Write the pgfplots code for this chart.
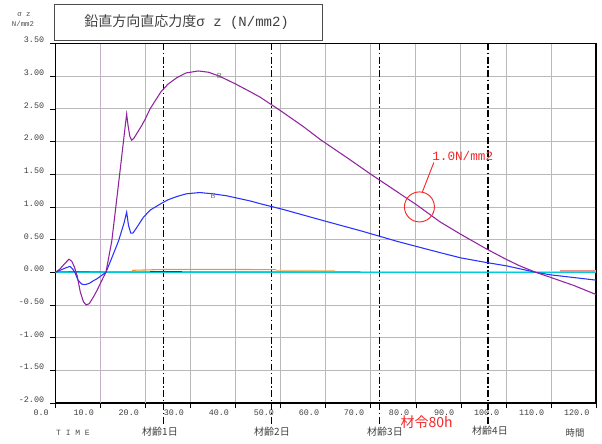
\documentclass[border=0pt]{standalone}
\usepackage{pgfplots}
\pgfplotsset{compat=1.18}
\usepackage{fontspec}
\setmainfont{Liberation Serif}
\newfontfamily\jp{Noto Sans CJK JP}
\newfontfamily\mono{Liberation Mono}
\definecolor{cpurple}{RGB}{145,35,160}
\definecolor{cblue}{RGB}{40,50,255}
\definecolor{ccyan}{RGB}{0,205,215}
\definecolor{corange}{RGB}{240,150,40}
\definecolor{clorange}{RGB}{245,195,130}
\definecolor{cdred}{RGB}{150,30,30}
\definecolor{cteal}{RGB}{40,130,110}
\definecolor{cpink}{RGB}{240,140,140}
\definecolor{cgrid}{RGB}{185,185,185}
\definecolor{cmauve}{RGB}{200,175,205}
\definecolor{cred}{RGB}{245,40,40}

\begin{document}
\begin{tikzpicture}
\path[use as bounding box] (-41.625pt,-30pt) rectangle (409.875pt,302.25pt);
\begin{axis}[
  at={(0,0)}, anchor=south west,
  scale only axis, width=405.375pt, height=269.625pt,
  xmin=0, xmax=120, ymin=-2, ymax=3.5,
  xtick={0,10,...,120},
  ytick={-2,-1.5,...,3.5},
  tick pos=left, tick align=outside, major tick length=4pt,
  tick style={draw=black, line width=0.5pt},
  grid=major, major grid style={draw=cgrid, line width=0.6pt},
  axis line style={line width=1.1pt},
  clip=false,
  /pgf/number format/assume math mode=true,
  tick label style={font=\mono\fontsize{6.3}{7}\selectfont, text=black!75},
  xticklabel style={/pgf/number format/.cd, fixed, fixed zerofill, precision=1, /tikz/.cd, anchor=north east, xshift=-1.5pt, yshift=2.5pt},
  yticklabel style={/pgf/number format/.cd, fixed, fixed zerofill, precision=2, /tikz/.cd, anchor=east, yshift=2.5pt, xshift=-1pt},
]
% coloured grid lines at 10 and 20
\draw[cmauve, line width=0.6pt] (axis cs:10,-2) -- (axis cs:10,3.5);
\draw[cmauve, line width=0.6pt] (axis cs:20,-2) -- (axis cs:20,3.5);
% day lines
\foreach \d in {24,48,72,96} {
  \edef\tmp{\noexpand\draw[black, line width=0.9pt, dash pattern=on 5pt off 2pt on 1pt off 2pt] (axis cs:\d,3.5) -- (axis cs:\d,-2.35);}
  \tmp
}
\draw[black!80, line width=0.6pt] (axis cs:0,0) -- (axis cs:120,0);

% near-zero series
\addplot[cteal, line width=0.7pt] coordinates {(0,0.005) (30,0.008) (60,0.005) (90,0.004) (120,0.004)};
\addplot[green!60!black, line width=0.6pt] coordinates {(0,0.0) (5,0.01) (11,0.0)};
\addplot[cdred, line width=0.8pt] coordinates {(21,0.005) (28,0.005)};
\addplot[corange, line width=0.8pt] coordinates {(17,0.03) (25,0.045) (35,0.045) (49,0.04)};
\addplot[clorange, line width=0.8pt] coordinates {(49,0.03) (62,0.025)};
\addplot[clorange, line width=0.8pt] coordinates {(99,0.012) (112,0.012)};
\addplot[cpink, line width=0.8pt] coordinates {(112,0.02) (120,0.02)};
\addplot[ccyan, line width=0.9pt] coordinates {(0,0) (120,0)};

% blue
\addplot[cblue, line width=0.8pt] coordinates {
(0,0) (1,0.03) (2,0.06) (3.2,0.09) (3.8,0.05) (4.3,0) (5,-0.12) (5.8,-0.18) (6.5,-0.19)
(7.5,-0.17) (8.4,-0.13) (9.2,-0.1) (10.2,-0.05) (11.2,0) (12.5,0.22) (14,0.48) (15.2,0.75)
(15.8,0.92) (16.2,0.72) (16.7,0.6) (17.2,0.6) (18,0.68) (19.5,0.84) (21,0.95) (23.4,1.05)
(25,1.11) (27,1.16) (29,1.2) (32,1.22) (35,1.2) (38,1.17) (43.3,1.09) (45.4,1.05)
(50.6,0.96) (60,0.78) (68,0.63) (76,0.47) (85.4,0.3) (90,0.22) (95.6,0.15) (100,0.1)
(106.6,0) (110,-0.04) (115,-0.08) (120,-0.12)};

% purple
\addplot[cpurple, line width=0.8pt] coordinates {
(0,0) (1,0.05) (2,0.13) (3,0.2) (3.6,0.17) (4.2,0.08) (4.8,-0.05) (5.5,-0.3) (6.2,-0.45)
(6.8,-0.5) (7.5,-0.48) (8.4,-0.38) (9.2,-0.28) (9.9,-0.18) (10.6,-0.08) (11.2,0)
(12.5,0.48) (13.6,1.12) (14.7,1.77) (15.5,2.25) (15.8,2.42) (16.1,2.25) (16.5,2.08)
(16.9,2.02) (17.4,2.05) (18.2,2.14) (19.1,2.24) (19.9,2.34) (21,2.5) (22.1,2.62)
(23.4,2.76) (25,2.88) (27,2.98) (29,3.05) (31.7,3.08) (34,3.06) (36.4,3.0) (40,2.88)
(43.3,2.76) (45.4,2.68) (50,2.47) (55,2.23) (58.8,2.03) (65,1.74) (70,1.5) (75,1.27)
(80,1.04) (85.4,0.77) (90,0.58) (95.6,0.36) (100,0.2) (103,0.1) (106.6,0) (110,-0.08)
(115,-0.2) (120,-0.34)};

\node[font=\sffamily\fontsize{5.5}{6}\selectfont, text=black!60] at (axis cs:36.4,3.0) {B};
\node[font=\sffamily\fontsize{5.5}{6}\selectfont, text=black!60] at (axis cs:35,1.16) {B};

% annotation
\draw[cred, line width=0.7pt] (axis cs:80.8,1.0) circle [radius=11.25pt];
\draw[cred, line width=0.7pt] (axis cs:81.4,1.22) -- (axis cs:84.0,1.68);
\node[cred, anchor=south west, inner sep=0pt, font=\mono\fontsize{9.5}{10}\selectfont] at (axis cs:83.6,1.70) {1.0N/mm2};
\end{axis}

\begin{scope}[x=0.75pt, y=0.75pt]
\draw[black!70, line width=0.7pt] (-1.5,362.3) rectangle (266.5,399);
\node[font=\jp\fontsize{10.5}{12}\selectfont, text=black!75] at (131.2,381.3) {鉛直方向直応力度{\mono σ z (N/mm2)}};
\node[font=\mono\fontsize{5.5}{6}\selectfont, text=black!70] at (-31.5,388) {σ z};
\node[font=\mono\fontsize{5.5}{6}\selectfont, text=black!70] at (-32.5,379) {N/mm2};
\node[font=\mono\fontsize{6}{7}\selectfont, text=black!70] at (17.5,-30) {T I M E};
\node[font=\jp\fontsize{7.5}{8}\selectfont, text=black!75] at (104.5,-29) {材齢1日};
\node[font=\jp\fontsize{7.5}{8}\selectfont, text=black!75] at (216.5,-29) {材齢2日};
\node[font=\jp\fontsize{7.5}{8}\selectfont, text=black!75] at (329.5,-29) {材齢3日};
\node[font=\jp\fontsize{7.5}{8}\selectfont, text=black!75] at (434.5,-28) {材齢4日};
\node[font=\jp\fontsize{7}{8}\selectfont, text=black!75] at (519.5,-30) {時間};
\node[font=\jp\fontsize{10.5}{11}\selectfont, text=cred] at (371.1,-19) {材令80h};
\end{scope}
\end{tikzpicture}
\end{document}
